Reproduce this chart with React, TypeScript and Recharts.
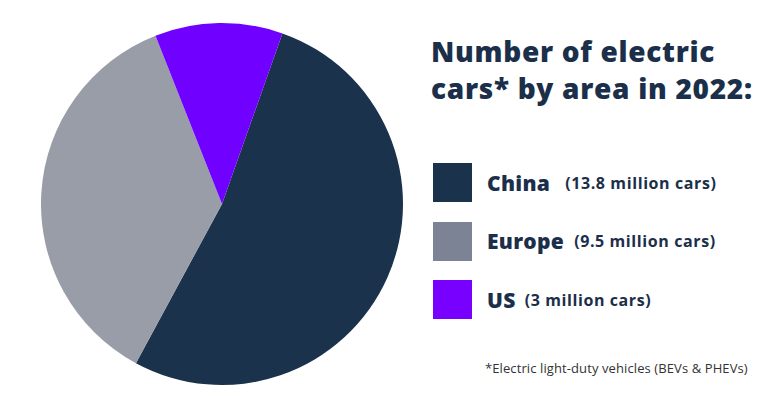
import React from 'react';
import { PieChart, Pie, Cell } from 'recharts';

const areas = ['China', 'Europe', 'US'];
const cars = [13.8, 9.5, 3];
const carLabels = ['(13.8 million cars)', '(9.5 million cars)', '(3 million cars)'];

const PIE_COLORS = ['#1b324d', '#999da7', '#7000ff'];
const SWATCH_COLORS = ['#1b324d', '#7b8395', '#7800ff'];
const TEXT_COLOR = '#1b2f4a';
const LABEL_GAPS = [15, 10, 9];

const data = areas.map((name, i) => ({ name, value: cars[i] }));

export default function App() {
    return (
        <div style={{ position: 'absolute', left: 0, top: 0, width: 783, height: 397, background: '#fff', fontFamily: '"Open Sans", sans-serif' }}>
            <PieChart width={783} height={397} margin={{ top: 0, right: 0, bottom: 0, left: 0 }}>
                <Pie
                    data={data}
                    dataKey="value"
                    cx={222}
                    cy={204}
                    outerRadius={181}
                    startAngle={70.5}
                    endAngle={-289.5}
                    stroke="none"
                    isAnimationActive={false}
                >
                    {data.map((_, i) => (
                        <Cell key={`cell-${i}`} fill={PIE_COLORS[i]} />
                    ))}
                </Pie>
            </PieChart>

            {/* title */}
            <div style={{
                position: 'absolute', left: 431, top: 33, color: TEXT_COLOR,
                fontSize: 28, fontWeight: 800, lineHeight: '37px', letterSpacing: 0.7
            }}>
                Number of electric<br />cars* by area in 2022:
            </div>

            {/* legend */}
            {areas.map((a, i) => (
                <div key={a} style={{ position: 'absolute', left: 433, top: 163 + i * 58.5, display: 'flex', alignItems: 'center', height: 39 }}>
                    <span style={{ width: 39, height: 39, background: SWATCH_COLORS[i], display: 'inline-block' }} />
                    <span style={{ marginLeft: 15, fontSize: 21, fontWeight: 800, color: TEXT_COLOR, letterSpacing: 0.3 }}>{a}</span>
                    <span style={{ marginLeft: LABEL_GAPS[i], fontSize: 16, fontWeight: 700, color: TEXT_COLOR, letterSpacing: 0.6 }}>{carLabels[i]}</span>
                </div>
            ))}

            <div style={{ position: 'absolute', left: 485, top: 359, fontSize: 13, color: '#333', letterSpacing: 0.1 }}>
                *Electric light-duty vehicles (BEVs &amp; PHEVs)
            </div>
        </div>
    );
}
